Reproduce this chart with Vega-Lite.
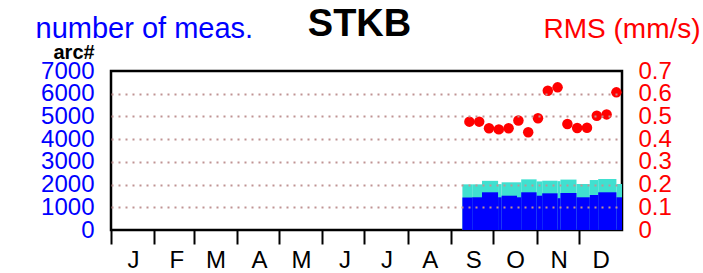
{
  "$schema": "https://vega.github.io/schema/vega-lite/v6.json",
  "width": 511,
  "height": 159,
  "autosize": {"type": "none"},
  "padding": {"left": 111, "top": 71, "right": 81, "bottom": 43},
  "background": "white",
  "config": {
    "font": "Liberation Sans",
    "view": {"stroke": "black", "strokeWidth": 2.5}
  },
  "title": {
    "text": "STKB",
    "fontSize": 38,
    "fontWeight": "bold",
    "color": "black",
    "anchor": "middle",
    "frame": "group",
    "dx": -7,
    "dy": 30,
    "offset": 0
  },
  "datasets": {
    "counts": [
      {"start": "2021-09-09T00:00", "end": "2021-09-16T00:00", "arc": 1430, "total": 2010},
      {"start": "2021-09-16T00:00", "end": "2021-09-23T00:00", "arc": 1440, "total": 2010},
      {"start": "2021-09-23T00:00", "end": "2021-10-04T12:00", "arc": 1660, "total": 2165},
      {"start": "2021-10-04T12:00", "end": "2021-10-07T00:00", "arc": 1440, "total": 2020},
      {"start": "2021-10-07T00:00", "end": "2021-10-18T00:00", "arc": 1510, "total": 2100},
      {"start": "2021-10-18T00:00", "end": "2021-10-21T00:00", "arc": 1440, "total": 2100},
      {"start": "2021-10-21T00:00", "end": "2021-11-01T00:00", "arc": 1660, "total": 2230},
      {"start": "2021-11-01T00:00", "end": "2021-11-05T00:00", "arc": 1510, "total": 2140},
      {"start": "2021-11-05T00:00", "end": "2021-11-16T00:00", "arc": 1615, "total": 2170},
      {"start": "2021-11-16T00:00", "end": "2021-11-18T00:00", "arc": 1400, "total": 2150},
      {"start": "2021-11-18T00:00", "end": "2021-11-29T12:00", "arc": 1630, "total": 2220},
      {"start": "2021-11-29T12:00", "end": "2021-12-09T00:00", "arc": 1440, "total": 2025},
      {"start": "2021-12-09T00:00", "end": "2021-12-15T00:00", "arc": 1540, "total": 2200},
      {"start": "2021-12-15T00:00", "end": "2021-12-28T00:00", "arc": 1660, "total": 2245},
      {"start": "2021-12-28T00:00", "end": "2022-01-01T00:00", "arc": 1440, "total": 2025}
    ],
    "rms": [
      {"date": "2021-09-14T00:00", "rms": 0.477},
      {"date": "2021-09-21T00:00", "rms": 0.477},
      {"date": "2021-09-28T00:00", "rms": 0.448},
      {"date": "2021-10-05T00:00", "rms": 0.443},
      {"date": "2021-10-12T00:00", "rms": 0.448},
      {"date": "2021-10-19T00:00", "rms": 0.482},
      {"date": "2021-10-26T00:00", "rms": 0.43},
      {"date": "2021-11-02T00:00", "rms": 0.492},
      {"date": "2021-11-09T00:00", "rms": 0.613},
      {"date": "2021-11-16T00:00", "rms": 0.628},
      {"date": "2021-11-23T00:00", "rms": 0.467},
      {"date": "2021-11-30T00:00", "rms": 0.449},
      {"date": "2021-12-07T00:00", "rms": 0.45},
      {"date": "2021-12-14T00:00", "rms": 0.503},
      {"date": "2021-12-21T00:00", "rms": 0.509},
      {"date": "2021-12-28T00:00", "rms": 0.606}
    ]
  },
  "layer": [
    {
      "data": {"name": "counts"},
      "encoding": {
        "x": {
          "field": "start",
          "type": "temporal",
          "scale": {"domain": [{"year": 2021, "month": 1, "date": 1}, {"year": 2022, "month": 1, "date": 1}]},
          "axis": {
            "orient": "bottom",
            "values": [
              {"year": 2021, "month": 1, "date": 1},
              {"year": 2021, "month": 2, "date": 1},
              {"year": 2021, "month": 3, "date": 1},
              {"year": 2021, "month": 4, "date": 1},
              {"year": 2021, "month": 5, "date": 1},
              {"year": 2021, "month": 6, "date": 1},
              {"year": 2021, "month": 7, "date": 1},
              {"year": 2021, "month": 8, "date": 1},
              {"year": 2021, "month": 9, "date": 1},
              {"year": 2021, "month": 10, "date": 1},
              {"year": 2021, "month": 11, "date": 1},
              {"year": 2021, "month": 12, "date": 1}
            ],
            "labelExpr": "substring(timeFormat(datum.value, '%b'), 0, 1)",
            "labelOffset": 22,
            "labelFontSize": 24,
            "labelColor": "black",
            "labelBaseline": "alphabetic",
            "labelAlign": "center",
            "labelPadding": 23,
            "labelFlush": false,
            "labelOverlap": false,
            "labelBound": false,
            "tickSize": 14,
            "tickWidth": 2,
            "tickColor": "black",
            "domain": false,
            "grid": false,
            "title": null
          }
        },
        "x2": {"field": "end"},
        "y2": {"datum": 0}
      },
      "layer": [
        {
          "mark": {"type": "rect", "color": "#40e0d0"},
          "encoding": {
            "y": {
              "field": "total",
              "type": "quantitative",
              "scale": {"domain": [0, 7000], "zero": true, "nice": false},
              "axis": {
                "orient": "left",
                "values": [0, 1000, 2000, 3000, 4000, 5000, 6000, 7000],
                "format": "d",
                "labelFontSize": 24,
                "labelColor": "#0000ff",
                "labelPadding": 17,
                "labelOverlap": false,
                "labelFlush": false,
                "labelBound": false,
                "ticks": false,
                "domain": false,
                "grid": true,
                "gridColor": "#c09393",
                "gridDash": [2, 5],
                "gridWidth": 2,
                "gridOpacity": {"condition": {"test": "datum.value == 0 || datum.value == 7000", "value": 0}, "value": 1},
                "zindex": 1,
                "title": "number of meas.",
                "titleFontSize": 29,
                "titleFontWeight": "normal",
                "titleColor": "#0000ff",
                "titleAngle": 0,
                "titleAlign": "left",
                "titleBaseline": "alphabetic",
                "titleX": -76,
                "titleY": -34
              }
            }
          }
        },
        {
          "mark": {"type": "rect", "color": "#0000ff"},
          "encoding": {
            "y": {
              "field": "arc",
              "type": "quantitative",
              "axis": {
                "orient": "left",
                "values": [0, 1000, 2000, 3000, 4000, 5000, 6000, 7000],
                "format": "d",
                "labelFontSize": 24,
                "labelColor": "#0000ff",
                "labelPadding": 17,
                "labelOverlap": false,
                "labelFlush": false,
                "labelBound": false,
                "ticks": false,
                "domain": false,
                "grid": true,
                "gridColor": "#c09393",
                "gridDash": [2, 5],
                "gridWidth": 2,
                "gridOpacity": {"condition": {"test": "datum.value == 0 || datum.value == 7000", "value": 0}, "value": 1},
                "zindex": 1,
                "title": "number of meas.",
                "titleFontSize": 29,
                "titleFontWeight": "normal",
                "titleColor": "#0000ff",
                "titleAngle": 0,
                "titleAlign": "left",
                "titleBaseline": "alphabetic",
                "titleX": -76,
                "titleY": -34
              }
            }
          }
        }
      ]
    },
    {
      "data": {"name": "rms"},
      "mark": {"type": "circle", "size": 110, "opacity": 1, "color": "#ff0000"},
      "encoding": {
        "x": {
          "field": "date",
          "type": "temporal",
          "axis": {
            "orient": "top",
            "labels": false,
            "ticks": false,
            "domain": false,
            "grid": false,
            "title": "arc#",
            "titleFontSize": 20,
            "titleFontWeight": "bold",
            "titleColor": "black",
            "titleAngle": 0,
            "titleAlign": "left",
            "titleBaseline": "alphabetic",
            "titleX": -58,
            "titleY": -13
          }
        },
        "y": {
          "field": "rms",
          "type": "quantitative",
          "scale": {"domain": [0, 0.7], "nice": false},
          "axis": {
            "orient": "right",
            "values": [0, 0.1, 0.2, 0.3, 0.4, 0.5, 0.6, 0.7],
            "format": "~g",
            "labelFontSize": 24,
            "labelColor": "#ff0000",
            "labelPadding": 16,
            "labelOverlap": false,
            "labelFlush": false,
            "labelBound": false,
            "ticks": false,
            "domain": false,
            "grid": false,
            "title": "RMS (mm/s)",
            "titleFontSize": 28,
            "titleFontWeight": "normal",
            "titleColor": "#ff0000",
            "titleAngle": 0,
            "titleAlign": "left",
            "titleBaseline": "alphabetic",
            "titleX": -79,
            "titleY": -34
          }
        }
      }
    }
  ],
  "resolve": {"scale": {"y": "independent"}, "axis": {"x": "independent"}}
}
